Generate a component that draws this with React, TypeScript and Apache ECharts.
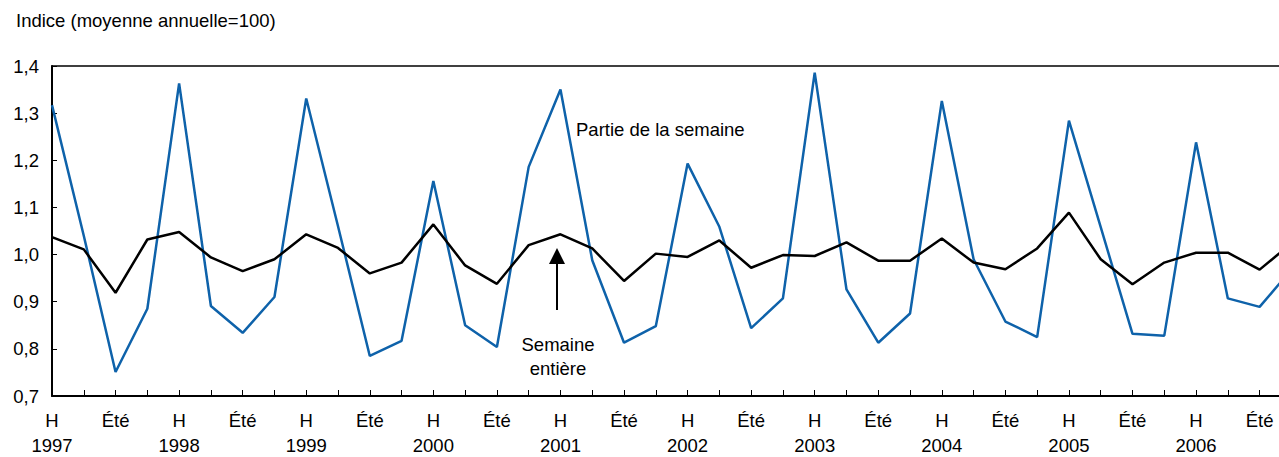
import React, { useEffect, useRef } from "react";
import * as echarts from "echarts";

const startYear = 1997;
const partieSemaine = [
  1.317, 1.04, 0.751, 0.885, 1.363, 0.891, 0.834, 0.91,
  1.331, 1.06, 0.785, 0.817, 1.156, 0.85, 0.804, 1.186,
  1.35, 0.988, 0.813, 0.848, 1.193, 1.059, 0.844, 0.907,
  1.386, 0.926, 0.813, 0.875, 1.326, 0.99, 0.858, 0.825,
  1.284, 1.058, 0.832, 0.828, 1.238, 0.907, 0.889, 0.968,
];
const semaineEntiere = [
  1.037, 1.011, 0.919, 1.032, 1.048, 0.994, 0.965, 0.99,
  1.043, 1.014, 0.96, 0.983, 1.064, 0.977, 0.938, 1.02,
  1.043, 1.013, 0.944, 1.002, 0.995, 1.03, 0.972, 0.999,
  0.997, 1.026, 0.987, 0.987, 1.034, 0.983, 0.969, 1.013,
  1.089, 0.99, 0.937, 0.983, 1.004, 1.004, 0.968, 1.024,
];
const yTicks = [0.7, 0.8, 0.9, 1.0, 1.1, 1.2, 1.3, 1.4];
const titleText = "Indice (moyenne annuelle=100)";
const labelPartie = "Partie de la semaine";
const labelEntiere = ["Semaine", "entière"];

const FONT = "'Liberation Sans', Arial, sans-serif";
const FS = 18.5;

export default function App() {
  const ref = useRef<HTMLDivElement>(null);
  useEffect(() => {
    if (!ref.current) return;
    const chart = echarts.init(ref.current, null, { renderer: "svg" });
    const xMax = 38.61;
    const toPts = (arr: number[]) => arr.map((v, i) => [i, v]);
    chart.setOption({
      animation: false,
      textStyle: { fontFamily: FONT },
      grid: { left: 52, right: 0, top: 66, bottom: 61, containLabel: false, outerBoundsMode: "none" },
      xAxis: [
        {
          type: "value",
          min: 0,
          max: xMax,
          interval: 1,
          axisLine: { show: true, lineStyle: { color: "#000", width: 2 } },
          axisTick: { show: true, inside: true, length: 6, lineStyle: { color: "#000", width: 1 } },
          splitLine: { show: false },
          axisLabel: {
            showMaxLabel: false,
            showMinLabel: true,
            hideOverlap: false,
            color: "#000",
            fontSize: FS,
            fontFamily: FONT,
            margin: 9,
            rich: {
              h: { fontSize: FS, fontFamily: FONT, color: "#000", lineHeight: 30 },
              y: { fontSize: FS, fontFamily: FONT, color: "#000", lineHeight: 20 },
            },
            formatter: (v: number) => {
              if (Math.abs(v - Math.round(v)) > 1e-6) return "";
              const i = Math.round(v);
              if (i % 4 === 0) return "{h|H}\n{y|" + (startYear + i / 4) + "}";
              if (i % 4 === 2) return "{h|Été}";
              return "";
            },
          },
        },
        {
          type: "value",
          position: "top",
          min: 0,
          max: xMax,
          axisLine: { show: true, onZero: false, lineStyle: { color: "#000", width: 1.5 } },
          axisTick: { show: false },
          axisLabel: { show: false },
          splitLine: { show: false },
        },
      ],
      yAxis: {
        type: "value",
        min: yTicks[0],
        max: yTicks[yTicks.length - 1],
        interval: 0.1,
        axisLine: { show: true, lineStyle: { color: "#000", width: 2 } },
        axisTick: { show: true, inside: true, length: 5, lineStyle: { color: "#000", width: 1 } },
        splitLine: { show: false },
        axisLabel: {
          color: "#000",
          fontSize: FS,
          fontFamily: FONT,
          margin: 13,
          formatter: (v: number) => v.toFixed(1).replace(".", ","),
        },
      },
      series: [
        {
          name: labelPartie,
          type: "line",
          data: toPts(partieSemaine),
          showSymbol: false,
          lineStyle: { color: "#0e62aa", width: 2.5 },
          itemStyle: { color: "#0e62aa" },
          clip: true,
          z: 2,
        },
        {
          name: "Semaine entière",
          type: "line",
          data: toPts(semaineEntiere),
          showSymbol: false,
          lineStyle: { color: "#000", width: 2.5 },
          itemStyle: { color: "#000" },
          clip: true,
          z: 3,
        },
      ],
      graphic: [
        {
          type: "text",
          x: 16,
          y: 20,
          style: { text: titleText, font: `${FS}px ${FONT}`, fill: "#000", align: "left", verticalAlign: "middle" },
        },
        {
          type: "text",
          x: 576,
          y: 129,
          style: { text: labelPartie, font: `${FS}px ${FONT}`, fill: "#000", align: "left", verticalAlign: "middle" },
        },
        {
          type: "text",
          x: 558,
          y: 344,
          style: { text: labelEntiere[0], font: `${FS}px ${FONT}`, fill: "#000", align: "center", verticalAlign: "middle" },
        },
        {
          type: "text",
          x: 558,
          y: 368,
          style: { text: labelEntiere[1], font: `${FS}px ${FONT}`, fill: "#000", align: "center", verticalAlign: "middle" },
        },
        {
          type: "line",
          shape: { x1: 557, y1: 310, x2: 557, y2: 262 },
          style: { stroke: "#000", lineWidth: 2 },
        },
        {
          type: "polygon",
          shape: { points: [[549, 264], [565, 264], [557, 248]] },
          style: { fill: "#000" },
        },
      ],
    });
    return () => chart.dispose();
  }, []);
  return <div ref={ref} style={{ width: 1279, height: 457, position: "absolute", left: 0, top: 0 }} />;
}
